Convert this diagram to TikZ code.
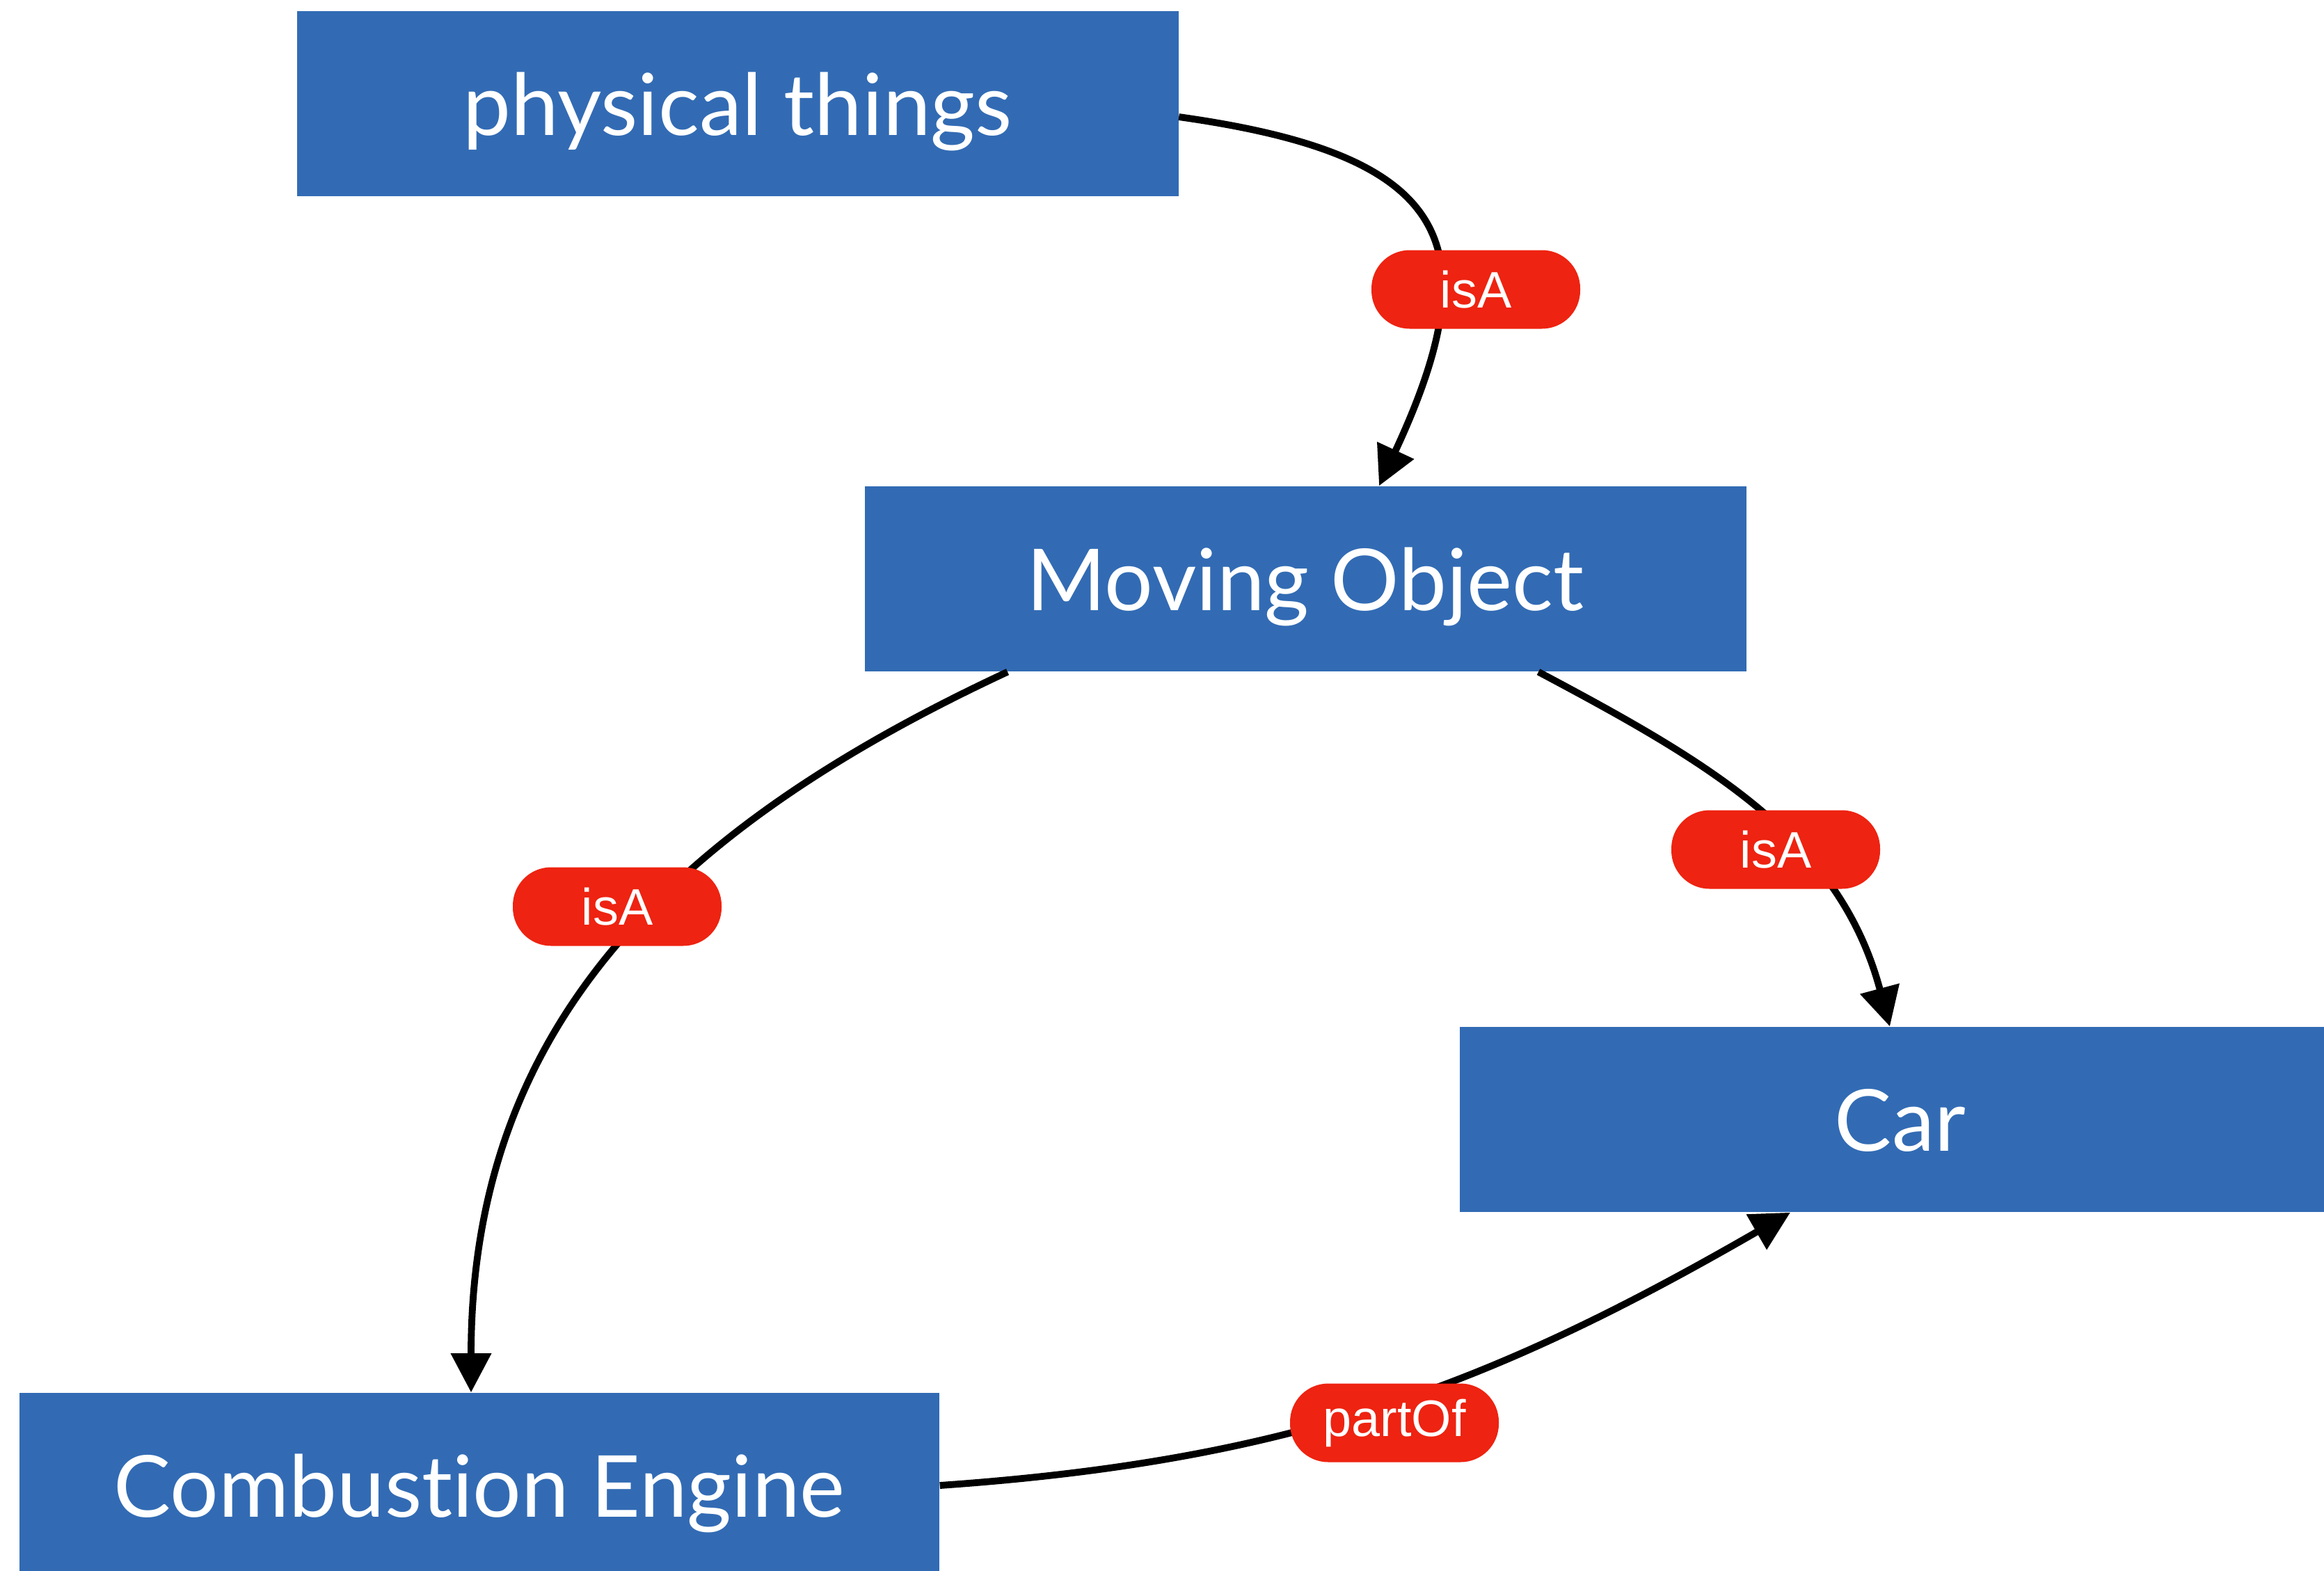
\documentclass[tikz,border=0pt]{standalone}
\usepackage{fontspec}
\setmainfont{Lato}[Ligatures=NoCommon]
\newfontfamily\lblfont{Liberation Sans}
\usepackage{tikz}
\usetikzlibrary{arrows.meta,positioning}
\definecolor{boxblue}{HTML}{326BB4}
\definecolor{pillred}{HTML}{EE2311}

\begin{document}
\begin{tikzpicture}[
  concept/.style={fill=boxblue,text=white,minimum width=12.67cm,minimum height=2.66cm,inner sep=0pt,text height=0.9cm,text depth=0pt,font=\fontsize{35}{40}\selectfont},
  rel/.style={fill=pillred,text=white,rounded corners=0.55cm,minimum width=3.0cm,minimum height=1.13cm,inner sep=0pt,font=\lblfont\fontsize{21}{24}\selectfont},
  arr/.style={-{Triangle[length=16pt,width=16pt]},line width=2.8pt,color=black}]
\useasboundingbox (0,0) rectangle (33.40,-22.57);
% concepts
\node[concept] (phys) at (10.60,-1.49) {physical things};
\node[concept] (mov) at (18.76,-8.32) {Moving Object};
\node[concept] (car) at (27.31,-16.09) {Car};
\node[concept,minimum width=13.22cm] (eng) at (6.89,-21.35) {Combustion Engine};
% relations
\draw[arr] ([yshift=-0.19cm]phys.east) to[out=-8,in=65,looseness=1.65] ([xshift=1.06cm]mov.north);
\draw[arr] ([xshift=-4.28cm]mov.south) to[out=205,in=90,looseness=1.05] ([xshift=-0.12cm]eng.north);
\draw[arr] ([xshift=3.35cm]mov.south) to[out=-28,in=105] ([xshift=-0.15cm]car.north);
\draw[arr] (eng.east) to[out=4,in=210] ([xshift=-1.58cm]car.south);
% edge labels
\node[rel] (r1) at (21.21,-4.16) {isA};
\node[rel] (r2) at (8.87,-13.03) {isA};
\node[rel] (r3) at (25.52,-12.21) {isA};
\node[rel] (r4) at (20.04,-20.45) {partOf};
\end{tikzpicture}
\end{document}
